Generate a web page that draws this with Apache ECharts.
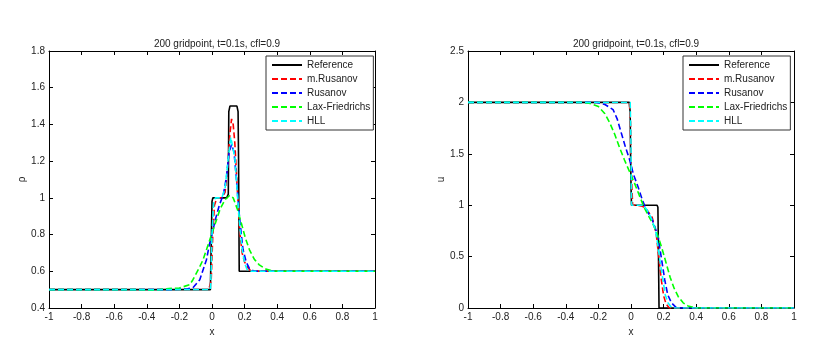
<!DOCTYPE html>
<html lang="en">
<head>
<meta charset="UTF-8">
<title>Riemann solvers comparison</title>
<script src="https://cdn.jsdelivr.net/npm/echarts@6/dist/echarts.min.js"></script>
<style>
  html, body { margin: 0; padding: 0; background: #fff; }
  #main { width: 828px; height: 350px; }
</style>
</head>
<body>
<div id="main"></div>
<script>
// names of the schemes, in drawing order
var names = ['Reference', 'm.Rusanov', 'Rusanov', 'Lax-Friedrichs', 'HLL'];
var colors = ['#000000', '#ff0000', '#0000ff', '#00ff00', '#00ffff'];
var titleText = '200 gridpoint, t=0.1s, cfl=0.9';

// density rho(x)
var rhoRef = [[-1,0.5],[-0.01,0.5],[0.0,0.98],[0.005,1.0],[0.09,1.0],[0.1,1.02],[0.103,1.47],[0.11,1.5],[0.153,1.5],[0.16,1.47],[0.163,1.2],[0.167,0.6],[1,0.6]];
var rhoMRus = [[-1,0.5],[-0.02,0.5],[-0.005,0.55],[0.005,0.8],[0.015,0.96],[0.03,1.0],[0.06,1.0],[0.08,1.03],[0.095,1.15],[0.11,1.35],[0.12,1.43],[0.13,1.4],[0.14,1.3],[0.155,1.05],[0.17,0.82],[0.185,0.7],[0.2,0.65],[0.22,0.62],[0.24,0.6],[1,0.6]];
var rhoRus = [[-1,0.5],[-0.25,0.5],[-0.15,0.505],[-0.117,0.51],[-0.075,0.554],[-0.034,0.663],[-0.014,0.754],[0.0,0.8],[0.02,0.88],[0.045,0.96],[0.07,1.02],[0.09,1.12],[0.105,1.25],[0.12,1.29],[0.135,1.25],[0.15,1.1],[0.165,0.93],[0.18,0.8],[0.19,0.72],[0.21,0.65],[0.23,0.615],[0.26,0.6],[1,0.6]];
var rhoLF = [[-1,0.5],[-0.45,0.5],[-0.35,0.497],[-0.28,0.505],[-0.2,0.509],[-0.137,0.527],[-0.117,0.554],[-0.075,0.625],[-0.055,0.663],[-0.014,0.77],[0.02,0.86],[0.05,0.94],[0.08,0.99],[0.108,1.013],[0.13,1.0],[0.155,0.94],[0.18,0.862],[0.205,0.78],[0.23,0.717],[0.26,0.665],[0.29,0.635],[0.33,0.612],[0.37,0.603],[0.4,0.6],[1,0.6]];
var rhoHLL = [[-1,0.5],[-0.01,0.5],[-0.005,0.6],[0.0,0.8],[0.01,0.97],[0.02,1.0],[0.06,1.0],[0.08,1.05],[0.1,1.22],[0.115,1.33],[0.125,1.33],[0.14,1.22],[0.155,1.03],[0.17,0.85],[0.185,0.72],[0.2,0.645],[0.215,0.61],[0.23,0.6],[1,0.6]];

// velocity u(x)
var uRef = [[-1,2],[-0.01,2],[-0.005,1.9],[-0.003,1.55],[0.0,1.2],[0.003,1.0],[0.01,1.0],[0.16,1.0],[0.165,0.98],[0.168,0.6],[0.172,0],[1,0]];
var uMRus = [[-1,2],[-0.01,2],[-0.003,1.8],[0.0,1.5],[0.005,1.2],[0.01,1.0],[0.04,1.0],[0.07,0.99],[0.1,0.95],[0.13,0.88],[0.155,0.72],[0.17,0.5],[0.186,0.275],[0.2,0.12],[0.215,0.04],[0.235,0],[1,0]];
var uRus = [[-1,2],[-0.25,2],[-0.21,2.0],[-0.16,1.98],[-0.11,1.93],[-0.085,1.84],[-0.059,1.7],[-0.035,1.57],[-0.008,1.44],[0.015,1.3],[0.043,1.18],[0.07,1.05],[0.094,0.955],[0.13,0.86],[0.166,0.7],[0.185,0.5],[0.207,0.275],[0.225,0.13],[0.248,0.05],[0.28,0],[1,0]];
var uLF = [[-1,2],[-0.3,2],[-0.25,1.99],[-0.2,1.96],[-0.16,1.89],[-0.13,1.8],[-0.1,1.69],[-0.07,1.56],[-0.04,1.44],[-0.01,1.33],[0.02,1.22],[0.05,1.1],[0.08,0.98],[0.11,0.89],[0.14,0.8],[0.165,0.7],[0.19,0.58],[0.215,0.44],[0.24,0.3],[0.265,0.19],[0.29,0.11],[0.32,0.05],[0.35,0.02],[0.4,0],[1,0]];
var uHLL = [[-1,2],[-0.005,2],[0.0,1.6],[0.002,1.2],[0.004,1.0],[0.075,1.0],[0.1,0.95],[0.125,0.87],[0.15,0.76],[0.166,0.6],[0.18,0.43],[0.196,0.275],[0.21,0.13],[0.227,0.05],[0.25,0],[1,0]];

var rhoData = [rhoRef, rhoMRus, rhoRus, rhoLF, rhoHLL];
var uData = [uRef, uMRus, uRus, uLF, uHLL];

var font = 'Liberation Sans';
var txt = '#222';
var fs = 10;

function xAx(grid, pos) {
    return {
        type: 'value', gridIndex: grid, position: pos, min: -1, max: 1, interval: 0.2,
        name: pos == 'bottom' ? 'x' : '', nameLocation: 'middle', nameGap: 16,
        nameTextStyle: { color: txt, fontFamily: font, fontSize: fs },
        axisLine: { show: true, onZero: false, lineStyle: { color: '#000', width: 1 } },
        axisTick: { show: true, inside: true, length: 4, lineStyle: { color: '#000' } },
        axisLabel: { show: pos == 'bottom', color: txt, fontFamily: font, fontSize: fs, margin: 4 },
        splitLine: { show: false }
    };
}
function yAx(grid, pos, min, max, step, label) {
    return {
        type: 'value', gridIndex: grid, position: pos, min: min, max: max, interval: step,
        name: pos == 'left' ? label : '', nameLocation: 'middle', nameGap: 19, nameRotate: 90,
        nameTextStyle: { color: txt, fontFamily: font, fontSize: fs },
        axisLine: { show: true, onZero: false, lineStyle: { color: '#000', width: 1 } },
        axisTick: { show: true, inside: true, length: 4, lineStyle: { color: '#000' } },
        axisLabel: { show: pos == 'left', color: txt, fontFamily: font, fontSize: fs, margin: 4 },
        splitLine: { show: false }
    };
}
function legendAt(left) {
    return {
        orient: 'vertical', left: left, top: 56, data: names,
        itemWidth: 30, itemHeight: 10, itemGap: 4, padding: [4, 3, 4, 5],
        backgroundColor: '#fff', borderColor: '#333', borderWidth: 1,
        itemStyle: { opacity: 0 },
        textStyle: { color: txt, fontFamily: font, fontSize: fs },
        selectedMode: false
    };
}

var series = [];
function addSeries(list, xi, yi) {
    for (var i = 0; i < list.length; i++) {
        series.push({
            name: names[i], type: 'line', xAxisIndex: xi, yAxisIndex: yi,
            data: list[i], symbol: 'none', animation: false,
            lineStyle: { color: colors[i], width: 1.6, type: i == 0 ? 'solid' : [6, 3] },
            itemStyle: { color: colors[i] }
        });
    }
}
addSeries(rhoData, 0, 0);
addSeries(uData, 2, 2);

var chart = echarts.init(document.getElementById('main'));
chart.setOption({
    backgroundColor: '#fff',
    animation: false,
    title: [
        { text: titleText, left: 212, top: 34, textAlign: 'center', textStyle: { color: txt, fontFamily: font, fontSize: fs, fontWeight: 'normal' } },
        { text: titleText, left: 631, top: 34, textAlign: 'center', textStyle: { color: txt, fontFamily: font, fontSize: fs, fontWeight: 'normal' } }
    ],
    legend: [legendAt(266), legendAt(683)],
    grid: [
        { left: 49, top: 51, width: 326, height: 257 },
        { left: 468, top: 51, width: 326, height: 257 }
    ],
    xAxis: [xAx(0, 'bottom'), xAx(0, 'top'), xAx(1, 'bottom'), xAx(1, 'top')],
    yAxis: [yAx(0, 'left', 0.4, 1.8, 0.2, 'ρ'), yAx(0, 'right', 0.4, 1.8, 0.2, ''),
            yAx(1, 'left', 0, 2.5, 0.5, 'u'), yAx(1, 'right', 0, 2.5, 0.5, '')],
    series: series
});
</script>
</body>
</html>
